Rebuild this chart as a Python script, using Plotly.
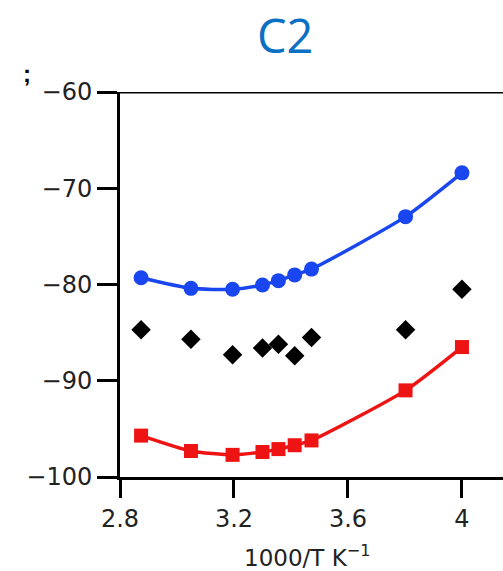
import plotly.graph_objects as go

# 1000/T values (K^-1) for the measured temperatures
inv_t = [2.874, 3.049, 3.195, 3.300, 3.356, 3.413, 3.472, 3.802, 4.000]

# Energies for the three series
blue_vals = [-79.3, -80.4, -80.5, -80.05, -79.6, -79.0, -78.4, -72.95, -68.4]
black_vals = [-84.7, -85.7, -87.3, -86.6, -86.2, -87.4, -85.5, -84.7, -80.5]
red_vals = [-95.7, -97.3, -97.7, -97.4, -97.1, -96.7, -96.2, -91.0, -86.5]

y_ticks = [-60, -70, -80, -90, -100]
y_tick_text = ["\u221260", "\u221270", "\u221280", "\u221290", "\u2212100"]
x_ticks = [2.8, 3.2, 3.6, 4.0]
x_tick_text = ["2.8", "3.2", "3.6", "4"]

BLUE = "#1a46f0"
RED = "#ee1414"

fig = go.Figure()
fig.add_trace(go.Scatter(
    x=inv_t, y=blue_vals, mode="lines+markers",
    line=dict(color=BLUE, width=3.5, shape="spline", smoothing=0.6),
    marker=dict(symbol="circle", size=15, color=BLUE),
))
fig.add_trace(go.Scatter(
    x=inv_t, y=black_vals, mode="markers",
    marker=dict(symbol="diamond", size=15, color="black"),
))
fig.add_trace(go.Scatter(
    x=inv_t, y=red_vals, mode="lines+markers",
    line=dict(color=RED, width=3.5, shape="spline", smoothing=0.6),
    marker=dict(symbol="square", size=14, color=RED),
))

axis_font = dict(family="DejaVu Sans, sans-serif", size=24, color="#222")

fig.update_layout(
    width=503, height=571,
    margin=dict(l=120, r=0, t=92, b=94),
    paper_bgcolor="white", plot_bgcolor="white",
    showlegend=False,
    xaxis=dict(
        range=[2.8, 4.144], tickvals=x_ticks, ticktext=x_tick_text,
        showgrid=False, zeroline=False,
        showline=True, linecolor="black", linewidth=3,
        ticks="outside", ticklen=18, tickwidth=3, tickcolor="black",
        tickfont=axis_font,
    ),
    yaxis=dict(
        range=[-100, -60], tickvals=y_ticks, ticktext=y_tick_text,
        showgrid=False, zeroline=False,
        showline=True, linecolor="black", linewidth=3,
        ticks="outside", ticklen=20, tickwidth=3, tickcolor="black",
        tickfont=axis_font,
    ),
    shapes=[dict(type="line", xref="paper", yref="y", x0=0, x1=1, y0=-60, y1=-60,
                 line=dict(color="black", width=3))],
    annotations=[
        dict(text="C2", xref="paper", yref="paper", x=0.431, y=1.148,
             showarrow=False, xanchor="center", yanchor="middle",
             font=dict(family="Open Sans, sans-serif", size=47, color="#0a70c4")),
        dict(text="1000/T K<sup>\u22121</sup>", xref="paper", yref="paper",
             x=0.488, y=-0.205, showarrow=False, xanchor="center", yanchor="middle",
             font=dict(family="DejaVu Sans, sans-serif", size=23, color="#222")),
        dict(text="<b>;</b>", xref="paper", yref="paper", x=-0.243, y=1.047,
             showarrow=False, xanchor="center", yanchor="middle",
             font=dict(family="Liberation Sans, Arial, sans-serif", size=24, color="black")),
    ],
)

fig.write_html("out.html")
